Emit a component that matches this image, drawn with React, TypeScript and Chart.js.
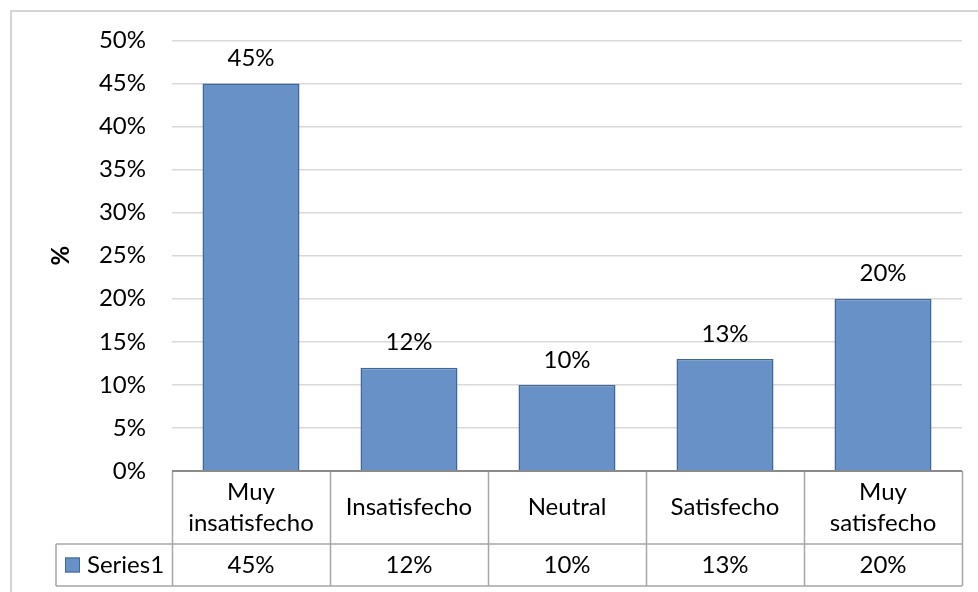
import React, { useEffect, useRef } from "react";
import { Chart, registerables } from "chart.js";

Chart.register(...registerables);

const categories: string[][] = [
  ["Muy", "insatisfecho"],
  ["Insatisfecho"],
  ["Neutral"],
  ["Satisfecho"],
  ["Muy", "satisfecho"],
];
const seriesName = "Series1";
const seriesValues = [45, 12, 10, 13, 20];
const yTicksMax = 50;
const yTickStep = 5;

const FONT = "Lato, 'Open Sans', sans-serif";
const FONT_SIZE = 24;
const BAR_FILL = "#6891c7";
const BAR_BORDER = "#3f679a";

const tablePlugin = {
  id: "excelTable",
  afterDraw(chart: any) {
    const ctx = chart.ctx as CanvasRenderingContext2D;
    const area = chart.chartArea;
    const xs = chart.scales.x;
    const ys = chart.scales.y;
    const n = categories.length;
    const y0 = ys.getPixelForValue(0);
    const row1Bottom = y0 + 73;
    const row2Bottom = row1Bottom + 42;
    const legendLeft = area.left - 116;
    ctx.save();

    // outer chart border
    ctx.strokeStyle = "#c8c8c8";
    ctx.lineWidth = 1.5;
    ctx.beginPath();
    ctx.moveTo(11, chart.height + 5);
    ctx.lineTo(11, 11);
    ctx.lineTo(chart.width + 5, 11);
    ctx.stroke();

    // data labels
    const meta = chart.getDatasetMeta(0);
    ctx.fillStyle = "#000";
    ctx.font = `${FONT_SIZE}px ${FONT}`;
    ctx.textAlign = "center";
    ctx.textBaseline = "middle";
    meta.data.forEach((bar: any, i: number) => {
      ctx.fillText(`${seriesValues[i]}%`, bar.x, bar.y - 25);
    });

    // table lines
    ctx.strokeStyle = "#a6a6a6";
    ctx.lineWidth = 1.5;
    ctx.beginPath();
    for (let i = 0; i <= n; i++) {
      const px = Math.round(xs.getPixelForValue(i - 0.5)) + 0.5;
      ctx.moveTo(px, y0);
      ctx.lineTo(px, row2Bottom);
    }
    ctx.moveTo(legendLeft, row1Bottom);
    ctx.lineTo(area.right, row1Bottom);
    ctx.moveTo(legendLeft, row2Bottom);
    ctx.lineTo(area.right, row2Bottom);
    ctx.moveTo(legendLeft, row1Bottom);
    ctx.lineTo(legendLeft, row2Bottom);
    ctx.stroke();

    // axis line
    ctx.strokeStyle = "#8a8a8a";
    ctx.lineWidth = 2;
    ctx.beginPath();
    ctx.moveTo(area.left, y0);
    ctx.lineTo(area.right, y0);
    ctx.stroke();

    // category labels and values
    ctx.fillStyle = "#000";
    const rowMid = (y0 + row1Bottom) / 2;
    const valMid = (row1Bottom + row2Bottom) / 2;
    const lh = 31;
    categories.forEach((lines, i) => {
      const cx = xs.getPixelForValue(i);
      const startY = rowMid - ((lines.length - 1) * lh) / 2;
      lines.forEach((t, j) => ctx.fillText(t, cx, startY + j * lh));
      ctx.fillText(`${seriesValues[i]}%`, cx, valMid);
    });

    // legend key
    ctx.fillStyle = BAR_FILL;
    ctx.strokeStyle = BAR_BORDER;
    ctx.lineWidth = 1;
    ctx.fillRect(legendLeft + 9, valMid - 7.5, 15, 15);
    ctx.strokeRect(legendLeft + 9.5, valMid - 7, 14, 14);
    ctx.fillStyle = "#000";
    ctx.textAlign = "left";
    ctx.fillText(seriesName, legendLeft + 31, valMid);
    ctx.restore();
  },
};

export default function App() {
  const ref = useRef<HTMLCanvasElement | null>(null);
  useEffect(() => {
    if (!ref.current) return;
    const chart = new Chart(ref.current, {
      type: "bar",
      data: {
        labels: categories.map((c) => c.join(" ")),
        datasets: [
          {
            label: seriesName,
            data: seriesValues,
            backgroundColor: BAR_FILL,
            borderColor: BAR_BORDER,
            borderWidth: 1.5,
            barPercentage: 0.614,
            categoryPercentage: 1,
          },
        ],
      },
      options: {
        responsive: false,
        animation: false,
        layout: { padding: { left: 0, top: 39, right: 16, bottom: 121 } },
        plugins: { legend: { display: false }, tooltip: { enabled: false } },
        scales: {
          x: { display: false },
          y: {
            min: 0,
            max: yTicksMax,
            afterFit: (s: any) => {
              s.width = 172;
            },
            border: { display: false },
            grid: { color: "#d9d9d9", lineWidth: 1.5, drawTicks: false },
            ticks: {
              stepSize: yTickStep,
              padding: 26,
              color: "#000",
              font: { family: FONT, size: FONT_SIZE },
              callback: (v: any) => `${v}%`,
            },
            title: {
              display: true,
              text: "%",
              color: "#000",
              font: { family: FONT, size: FONT_SIZE, weight: "bold" },
              padding: { top: 47, bottom: 0 },
            },
          },
        },
      },
      plugins: [tablePlugin],
    });
    return () => chart.destroy();
  }, []);
  return (
    <div style={{ position: "fixed", left: 0, top: 0, width: 978, height: 592, background: "#fff" }}>
      <canvas ref={ref} width={978} height={592} style={{ display: "block" }} />
    </div>
  );
}
